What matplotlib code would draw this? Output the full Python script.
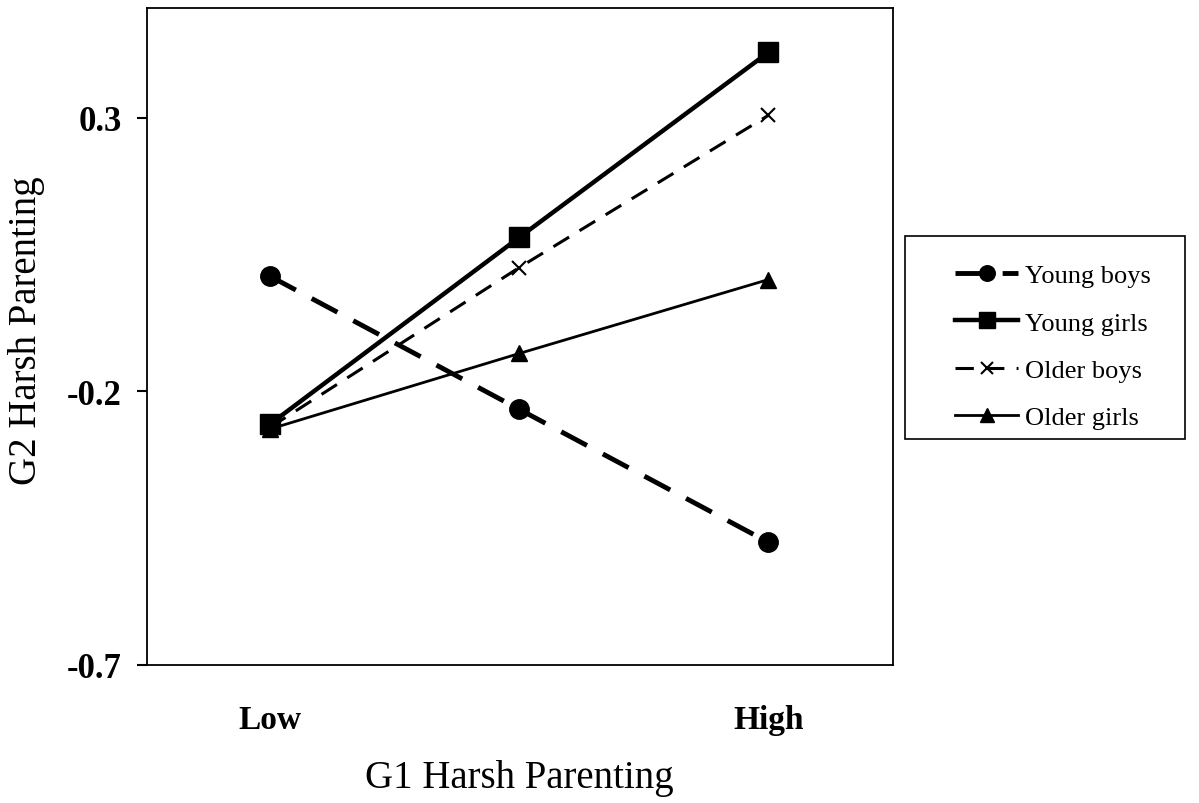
import matplotlib.pyplot as plt
from matplotlib.patches import Rectangle

# G1 harsh parenting levels
levels = ["Low", "", "High"]
xpos = [0, 1, 2]

young_boys = [0.010, -0.233, -0.476]
young_girls = [-0.260, 0.081, 0.419]
older_boys = [-0.266, 0.026, 0.304]
older_girls = [-0.269, -0.131, 0.004]

plt.rcParams['font.family'] = ['Liberation Serif', 'DejaVu Serif']

W, H = 1199, 804
fig = plt.figure(figsize=(W / 100, H / 100), dpi=100)
ax = fig.add_axes([147/W, 1 - 666/H, (893-147)/W, (666-9)/H])

ax.plot(xpos, young_boys, color="black", linewidth=3.5, linestyle=(0, (6, 3.7)),
        marker="o", markersize=14, label="Young boys")
ax.plot(xpos, young_girls, color="black", linewidth=3.2, linestyle="-",
        marker="s", markersize=14, label="Young girls")
ax.plot(xpos, older_boys, color="black", linewidth=2.2, linestyle=(0, (6, 4)),
        marker="x", markersize=10, markeredgewidth=1.5, label="Older boys")
ax.plot(xpos, older_girls, color="black", linewidth=2.0, linestyle="-",
        marker="^", markersize=12, label="Older girls")

ax.set_xlim(-0.494, 2.5)
ax.set_ylim(-0.7, 0.5)
ax.set_yticks([-0.7, -0.2, 0.3])
ax.set_yticklabels(["-0.7", "-0.2", "0.3"], fontsize=25, fontweight="bold")
ax.set_xticks(xpos)
ax.set_xticklabels(levels, fontsize=24, fontweight="bold")
ax.tick_params(axis="x", length=0, pad=28)
ax.tick_params(axis="y", length=7, width=1.5, pad=11)
for s in ax.spines.values():
    s.set_linewidth(1.3)

fig.text(519/W, 1 - 779/H, "G1 Harsh Parenting", fontsize=28,
         ha="center", va="center")
fig.text(27/W, 1 - 331/H, "G2 Harsh Parenting", fontsize=28,
         ha="center", va="center", rotation=90)

# legend box drawn separately, entries placed inside it
fig.patches.append(Rectangle((905/W, 1 - 440/H), (1185-905)/W, (440-237)/H,
                             transform=fig.transFigure, fill=False,
                             edgecolor="black", linewidth=1.2))
leg = fig.legend(loc="upper left", bbox_to_anchor=(955/W, 1 - 265/H),
                 fontsize=19, frameon=False, markerscale=0.8,
                 handlelength=2.4, handletextpad=0.27, labelspacing=0.9,
                 borderpad=0, borderaxespad=0)

fig.savefig("out.png", dpi=100)
